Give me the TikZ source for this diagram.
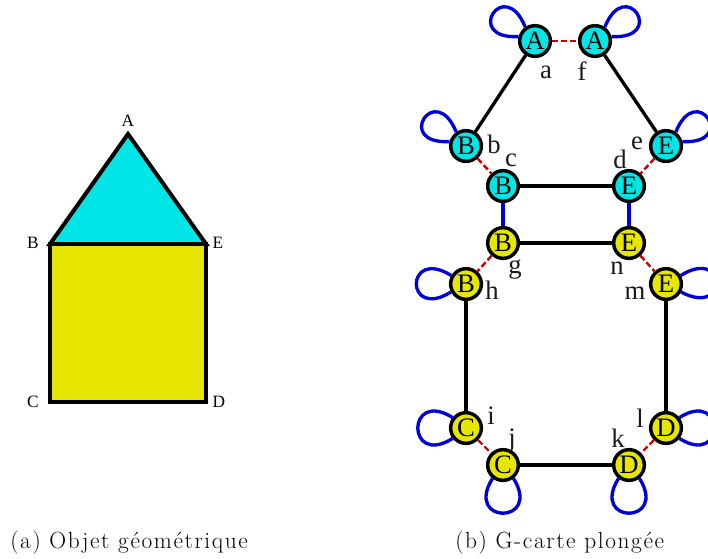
\documentclass[tikz,border=0pt]{standalone}
\usepackage{fontspec}
\setmainfont{Liberation Serif}
\newfontfamily\capfont[LetterSpace=7]{Latin Modern Roman}
\definecolor{cy}{RGB}{0,230,230}
\definecolor{ye}{RGB}{230,230,0}
\definecolor{rd}{RGB}{210,0,0}
\definecolor{bl}{RGB}{0,0,220}
\tikzset{
 dart/.style={circle,draw=black,line width=2.6pt,inner sep=0pt,minimum size=23pt,font=\fontsize{20}{20}\selectfont},
 cdart/.style={dart,fill=cy},
 ydart/.style={dart,fill=ye},
 lab/.style={inner sep=0pt,font=\fontsize{20}{20}\selectfont,text=black!90},
 vlab/.style={inner sep=0pt,font=\fontsize{13}{13}\selectfont},
 captext/.style={inner sep=0pt,anchor=base west,font=\capfont\fontsize{17.5}{18}\selectfont},
 a0/.style={line width=2.5pt,black},
 a1/.style={line width=1.8pt,rd,dash pattern=on 4.5pt off 2.2pt},
 a2/.style={line width=2.5pt,bl},
 lp/.style={line width=2.5pt,bl},
 face/.style={line width=3pt,line join=miter,draw=black}
}
\begin{document}
\begin{tikzpicture}[x=0.75pt,y=-0.75pt]
\useasboundingbox (0,0) rectangle (708,558);
% left object
\coordinate (PA) at (128,134);
\coordinate (PB) at (50,244);
\coordinate (PE) at (206,244);
\coordinate (PC) at (50,402);
\coordinate (PD) at (206,402);
\draw[face,fill=cy] (PA) -- (PB) -- (PE) -- cycle;
\draw[face,fill=ye] (PB) -- (PE) -- (PD) -- (PC) -- cycle;
\node[vlab] (tA) at (128,121) {A};
\node[vlab] (tB) at (33,243) {B};
\node[vlab] (tE) at (218,243) {E};
\node[vlab] (tC) at (33,402) {C};
\node[vlab] (tD) at (219,402) {D};
% darts
\node[cdart] (n1) at (535,41) {A};
\node[cdart] (n2) at (595,41) {A};
\node[cdart] (n3) at (466,146) {B};
\node[cdart] (n4) at (666,146) {E};
\node[cdart] (n5) at (503,186) {B};
\node[cdart] (n6) at (629,186) {E};
\node[ydart] (n7) at (503,243) {B};
\node[ydart] (n8) at (629,243) {E};
\node[ydart] (n9) at (466,284) {B};
\node[ydart] (n10) at (666,284) {E};
\node[ydart] (n11) at (466,428) {C};
\node[ydart] (n12) at (666,428) {D};
\node[ydart] (n13) at (503,465) {C};
\node[ydart] (n14) at (629,465) {D};
% alpha0
\draw[a0] (n1) -- (n3);
\draw[a0] (n2) -- (n4);
\draw[a0] (n5) -- (n6);
\draw[a0] (n7) -- (n8);
\draw[a0] (n9) -- (n11);
\draw[a0] (n10) -- (n12);
\draw[a0] (n13) -- (n14);
% alpha1
\draw[a1] (n1) -- (n2);
\draw[a1] (n3) -- (n5);
\draw[a1] (n4) -- (n6);
\draw[a1] (n7) -- (n9);
\draw[a1] (n8) -- (n10);
\draw[a1] (n11) -- (n13);
\draw[a1] (n12) -- (n14);
% alpha2
\draw[a2] (n5) -- (n7);
\draw[a2] (n6) -- (n8);
\draw[lp] (n1.125) to[out=112,in=183,distance=42pt] (n1.165);
\draw[lp] (n2.55) to[out=68,in=-3,distance=42pt] (n2.15);
\draw[lp] (n3.125) to[out=112,in=183,distance=42pt] (n3.165);
\draw[lp] (n4.55) to[out=68,in=-3,distance=42pt] (n4.15);
\draw[lp] (n9.150) to[out=148,in=212,distance=41pt] (n9.208);
\draw[lp] (n10.30) to[out=32,in=-28,distance=41pt] (n10.-28);
\draw[lp] (n11.142) to[out=148,in=212,distance=41pt] (n11.218);
\draw[lp] (n12.38) to[out=32,in=-32,distance=41pt] (n12.-38);
\draw[lp] (n13.232) to[out=238,in=302,distance=41pt] (n13.308);
\draw[lp] (n14.232) to[out=238,in=302,distance=41pt] (n14.308);
% dart labels
\node[lab] (la) at (546,72) {a};
\node[lab] (lf) at (582,71) {f};
\node[lab] (lb) at (494,144) {b};
\node[lab] (lc) at (511,160) {c};
\node[lab] (ld) at (620,159) {d};
\node[lab] (le) at (637,143) {e};
\node[lab] (lg) at (515,270) {g};
\node[lab] (ln) at (617,268) {n};
\node[lab] (lh) at (492,290) {h};
\node[lab] (lm) at (635,293) {m};
\node[lab] (li) at (491,416) {i};
\node[lab] (lj) at (512,441) {j};
\node[lab] (lk) at (618,438) {k};
\node[lab] (ll) at (640,418) {l};
% captions
\node[captext] (ca) at (10,548) {(a) Objet géométrique};
\node[captext] (cb) at (455,548) {(b) G-carte plongée};
\end{tikzpicture}
\end{document}
